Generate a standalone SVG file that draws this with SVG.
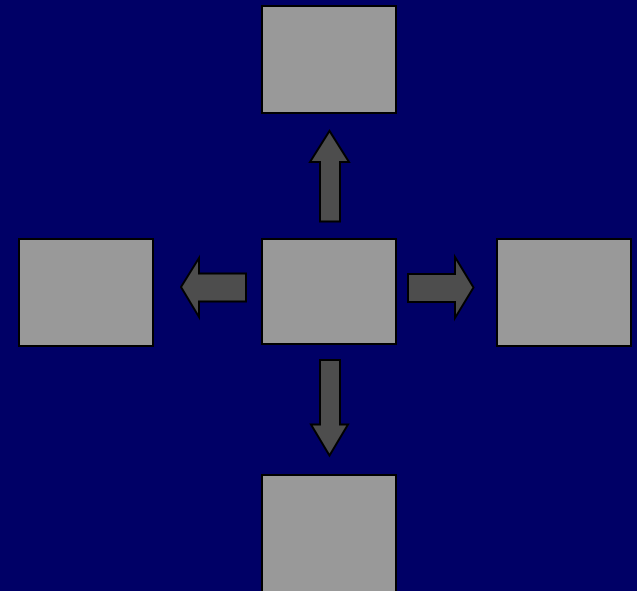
<svg xmlns="http://www.w3.org/2000/svg" width="637" height="591" viewBox="0 0 637 591">
<style>
.box{fill:#999999;stroke:#000000;stroke-width:2}
.arr{fill:#4d4d4d;stroke:#000000;stroke-width:2;stroke-linejoin:miter}
</style>
<rect x="0" y="0" width="637" height="591" fill="#000066"/>
<g id="node-top"><rect class="box" x="262" y="6" width="134" height="107"/></g>
<g id="node-center"><rect class="box" x="262" y="239" width="134" height="105"/></g>
<g id="node-left"><rect class="box" x="19" y="239" width="134" height="107"/></g>
<g id="node-right"><rect class="box" x="497" y="239" width="134" height="107"/></g>
<g id="node-bottom"><rect class="box" x="262" y="475" width="134" height="130"/></g>
<g id="connectors">
<polygon class="arr" points="320,221.5 340,221.5 340,162 349,162 329.5,131 310,162 320,162"/>
<polygon class="arr" points="246,273.5 246,301.5 199,301.5 199,317 181,287 199,258 199,273.5"/>
<polygon class="arr" points="408,274 455,274 455,257 473.5,287.5 455,318 455,302 408,302"/>
<polygon class="arr" points="320,360 340,360 340,424.5 348,424.5 329.5,455.5 311,424.5 320,424.5"/>
</g>
</svg>
